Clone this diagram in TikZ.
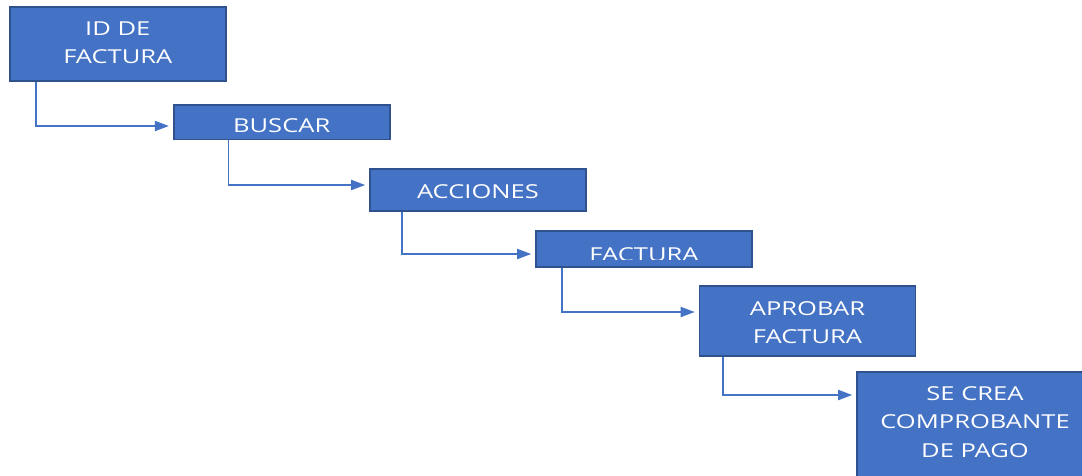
\documentclass[tikz,border=0pt]{standalone}
\usepackage{fontspec}
\setmainfont{Open Sans}
\usepackage{graphicx}
\usetikzlibrary{arrows.meta}

\definecolor{boxblue}{HTML}{4472C4}
\definecolor{boxedge}{HTML}{2F528F}

% Centered, horizontally widened box label; optional argument moves the
% text up or down without changing the size the node reserves for it.
\newcommand\boxtext[2][0pt]{%
  \raisebox{#1}[\height][\depth]{\scalebox{1.33}[1]{\begin{tabular}{@{}c@{}}#2\end{tabular}}}}

\begin{document}
\begin{tikzpicture}[x=1pt,y=-1pt,
  stepbox/.style={rectangle, fill=boxblue, draw=boxedge, line width=1.6pt,
    inner sep=0pt, minimum width=216pt, text=white,
    font=\fontsize{19.2}{28.5}\selectfont},
  labeltext/.style={inner sep=0pt, text=white, font=\fontsize{19.2}{28.5}\selectfont},
  flow/.style={draw=boxblue, line width=1.9pt,
    -{Triangle[length=14pt,width=10pt]}, shorten >=4pt}]

\clip (0,0) rectangle (1082,475);

% process steps
\node[stepbox, minimum height=74.5pt] (id)   at (117.8,44)  {\boxtext{ID DE\\FACTURA}};
\node[stepbox, minimum height=34.5pt] (busc) at (281.7,122.2) {\boxtext[-5pt]{BUSCAR}};
\node[stepbox, minimum height=42.5pt] (acc)  at (478,190)   {\boxtext[-2.5pt]{ACCIONES}};
\node[stepbox, minimum height=36.2pt] (fac)  at (644,249)   {};
\node[stepbox, minimum height=70.5pt] (apr)  at (807.5,321) {\boxtext[-2.9pt]{APROBAR\\FACTURA}};
\node[stepbox, minimum width=236pt, minimum height=106pt] (comp) at (975,425)
  {\boxtext[2.1pt]{SE CREA\\COMPROBANTE\\DE PAGO}};

% the FACTURA label is cut off above the lower edge of its box
\begin{scope}
  \clip (fac.north west) rectangle ([yshift=8.5pt]fac.south east);
  \node[labeltext] (factxt) at (fac.center) {\boxtext[-6.4pt]{FACTURA}};
\end{scope}

% connectors
\draw[flow] ([xshift=27pt]id.south west)   |- ([yshift=-3.8pt]busc.west);
\draw[flow] ([xshift=55.6pt]busc.south west) |- ([yshift=5pt]acc.west);
\draw[flow] ([xshift=32.7pt]acc.south west) |- ([yshift=-5pt]fac.west);
\draw[flow] ([xshift=26.7pt]fac.south west) |- ([yshift=9pt]apr.west);
\draw[flow] ([xshift=24.3pt]apr.south west) |- ([yshift=30pt]comp.west);
\end{tikzpicture}
\end{document}
